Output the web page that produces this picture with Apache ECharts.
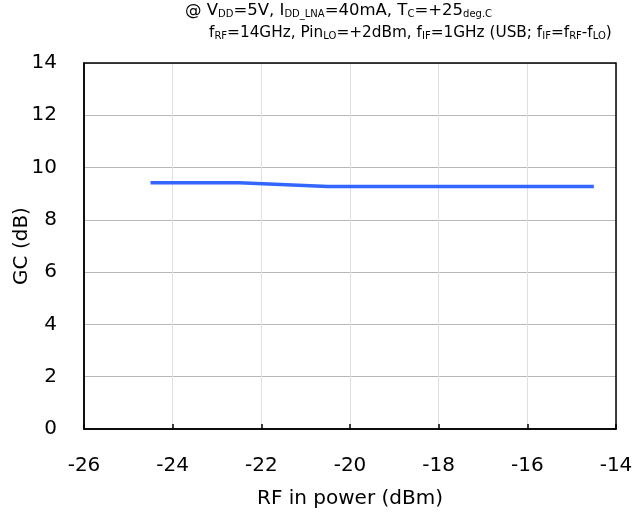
<!DOCTYPE html>
<html><head><meta charset="utf-8">
<script src="https://cdn.jsdelivr.net/npm/echarts@6/dist/echarts.min.js"></script>
<style>html,body{margin:0;padding:0;background:#fff}#c{width:632px;height:515px}</style>
</head><body><div id="c"></div>
<script>
const rfPower = [-24.5, -22.5, -20.5, -18.5, -16.5, -14.5];
const gc = [9.42, 9.42, 9.28, 9.28, 9.28, 9.28];
const xTicks = {min: -26, max: -14, interval: 2};
const yTicks = {min: 0, max: 14, interval: 2};

const FONT = 'DejaVu Sans';
const sub = {fontSize: 10, fontFamily: FONT, color: '#000', verticalAlign: 'bottom'};
const chart = echarts.init(document.getElementById('c'));
chart.setOption({
  animation: false,
  title: [
    {left: 185, top: 2, padding: 0, text: '@ V{s|DD}=5V, I{s|DD_LNA}=40mA, T{s|C}=+25{s|deg.C}',
     textStyle: {fontSize: 16.5, fontFamily: FONT, color: '#000', fontWeight: 'normal', rich: {s: sub}}},
    {left: 209, top: 26, padding: 0, text: 'f{s|RF}=14GHz, Pin{s|LO}=+2dBm, f{s|IF}=1GHz (USB; f{s|IF}=f{s|RF}-f{s|LO})',
     textStyle: {fontSize: 15.3, fontFamily: FONT, color: '#000', fontWeight: 'normal', rich: {s: sub}}}
  ],
  grid: {left: 84, right: 16, top: 63, bottom: 86, containLabel: false, outerBoundsMode: 'none'},
  xAxis: {
    type: 'value', min: xTicks.min, max: xTicks.max, interval: xTicks.interval,
    name: 'RF in power (dBm)', nameLocation: 'middle', nameGap: 60,
    nameTextStyle: {fontSize: 20, fontFamily: FONT, color: '#000'},
    axisLine: {show: true, lineStyle: {color: '#000', width: 1.5}},
    axisTick: {show: true, inside: true, length: 5, lineStyle: {color: '#000', width: 1.5}},
    axisLabel: {fontSize: 20, fontFamily: FONT, color: '#000', margin: 27},
    splitLine: {show: true, lineStyle: {color: '#e0e0e0', width: 1}}
  },
  yAxis: {
    type: 'value', min: yTicks.min, max: yTicks.max, interval: yTicks.interval,
    name: 'GC (dB)', nameLocation: 'middle', nameGap: 52, nameMoveOverlap: false,
    nameTextStyle: {fontSize: 20, fontFamily: FONT, color: '#000'},
    axisLine: {show: true, lineStyle: {color: '#000', width: 1.5}},
    axisTick: {show: false},
    axisLabel: {fontSize: 20, fontFamily: FONT, color: '#000', margin: 27},
    splitLine: {show: true, lineStyle: {color: '#b8b8b8', width: 1}}
  },
  series: [{
    type: 'line', data: rfPower.map((x, i) => [x, gc[i]]),
    showSymbol: false, lineStyle: {color: '#3366ff', width: 3.5}
  }],
  graphic: [{
    type: 'rect', shape: {x: 84, y: 63, width: 532, height: 366}, silent: true, z: 10,
    style: {fill: 'none', stroke: '#000', lineWidth: 1.5}
  }]
});
</script></body></html>
